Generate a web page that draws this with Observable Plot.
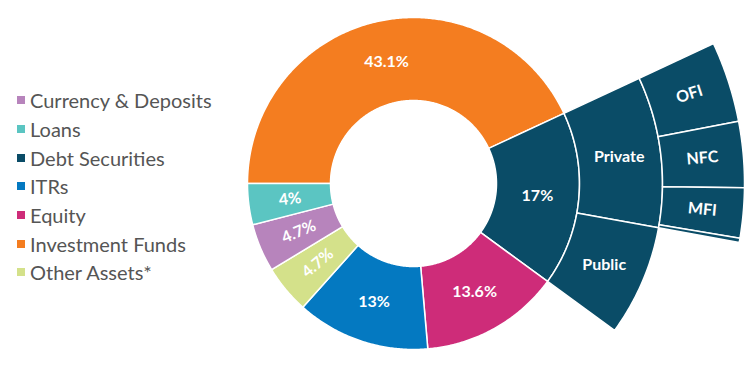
<!DOCTYPE html>
<html>
<head>
<meta charset="utf-8">
<script src="https://cdn.jsdelivr.net/npm/d3@7"></script>
<script src="https://cdn.jsdelivr.net/npm/@observablehq/plot@0.6"></script>
<style>
  html, body { margin: 0; padding: 0; background: #fff; }
  #wrap { position: relative; width: 756px; height: 372px; }
  #legend { position: absolute; left: 17px; top: 86px; font-family: Lato, sans-serif; font-size: 20px; color: #555; }
  #legend .row { display: flex; align-items: center; height: 28.7px; white-space: nowrap; }
  #legend .sw { width: 8px; height: 8px; margin-right: 5px; flex: none; }
  #chart { position: absolute; left: 0; top: 0; }
</style>
</head>
<body>
<div id="wrap"><div id="chart"></div><div id="legend"></div></div>
<script>
// ---- data ----
const categories = ["Currency & Deposits", "Loans", "Debt Securities", "ITRs", "Equity", "Investment Funds", "Other Assets*"];
const shares = [4.7, 4, 17, 13, 13.6, 43.1, 4.7];
const colors = ["#B784BC", "#5BC5C2", "#0A4C67", "#0479C1", "#CE2C79", "#F47D20", "#D4E18A"];
// clockwise order round the ring, starting at 9 o'clock
const ringOrder = ["Investment Funds", "Debt Securities", "Equity", "ITRs", "Other Assets*", "Currency & Deposits", "Loans"];
// breakdown of Debt Securities (share of total, %)
const debtNames = ["Private", "Public"];
const debtShares = [9.8, 7.2];
// breakdown of Private debt (share of total, %)
const privateNames = ["OFI", "NFC", "MFI", ""];
const privateShares = [3.94, 3.22, 2.44, 0.2];

// ---- layout ----
const W = 756, H = 372, CX = 413, CY = 183;
const R0 = 83, R1 = 166, R2 = 249, R3 = 331;
const START = 270; // degrees clockwise from north

const total = d3.sum(shares);
const deg = v => v / total * 360;

function arcPoly(key, a0, a1, r0, r1, color) {
  const pts = [];
  const n = Math.max(2, Math.ceil((a1 - a0) / 0.5));
  for (let i = 0; i <= n; i++) { const a = (a0 + (a1 - a0) * i / n) * Math.PI / 180; pts.push({key, color, x: r1 * Math.sin(a), y: r1 * Math.cos(a)}); }
  for (let i = n; i >= 0; i--) { const a = (a0 + (a1 - a0) * i / n) * Math.PI / 180; pts.push({key, color, x: r0 * Math.sin(a), y: r0 * Math.cos(a)}); }
  pts.push({...pts[0]});
  return pts;
}
function labelAt(text, a0, a1, r, radial) {
  const m = (a0 + a1) / 2, a = m * Math.PI / 180;
  let rot = 0;
  if (radial) { rot = m - 90; if (((m % 360) + 360) % 360 > 180) rot -= 180; }
  return {text, x: r * Math.sin(a), y: r * Math.cos(a), rotate: rot};
}

const polys = [], labels = [], subLabels = [];
let a = START, debtStart = 0;
for (const name of ringOrder) {
  const i = categories.indexOf(name);
  const span = deg(shares[i]);
  polys.push(...arcPoly(name, a, a + span, R0, R1, colors[i]));
  labels.push(labelAt(shares[i] + "%", a, a + span, (R0 + R1) / 2, shares[i] < 5));
  if (name === "Debt Securities") debtStart = a;
  a += span;
}
const debtColor = colors[categories.indexOf("Debt Securities")];
let b = debtStart, privStart = debtStart;
debtNames.forEach((n, j) => {
  const span = deg(debtShares[j]);
  polys.push(...arcPoly("d" + n, b, b + span, R1, R2, debtColor));
  subLabels.push(labelAt(n, b, b + span, (R1 + R2) / 2, false));
  if (n === "Private") privStart = b;
  b += span;
});
let c = privStart;
privateNames.forEach((n, j) => {
  const span = deg(privateShares[j]);
  polys.push(...arcPoly("p" + j, c, c + span, R2, R3, debtColor));
  if (n) subLabels.push(labelAt(n, c, c + span, (R2 + R3) / 2, true));
  c += span;
});

const chart = Plot.plot({
  width: W, height: H,
  marginTop: 0, marginRight: 0, marginBottom: 0, marginLeft: 0,
  x: {domain: [-CX, W - CX], axis: null},
  y: {domain: [-(H - CY), CY], axis: null},
  color: {type: "identity"},
  style: {fontFamily: "Lato, sans-serif", background: "transparent"},
  marks: [
    Plot.line(polys, {x: "x", y: "y", z: "key", fill: "color", stroke: "white", strokeWidth: 1.5, strokeLinejoin: "round"}),
    Plot.text(labels, {x: "x", y: "y", text: "text", rotate: "rotate", fill: "white", fontSize: 16, fontWeight: "bold"}),
    Plot.text(subLabels, {x: "x", y: "y", text: "text", rotate: "rotate", fill: "white", fontSize: 16, fontWeight: "bold"})
  ]
});
document.getElementById("chart").appendChild(chart);

const legend = d3.select("#legend");
categories.forEach((name, i) => {
  const row = legend.append("div").attr("class", "row");
  row.append("div").attr("class", "sw").style("background", colors[i]);
  row.append("span").text(name);
});
</script>
</body>
</html>
